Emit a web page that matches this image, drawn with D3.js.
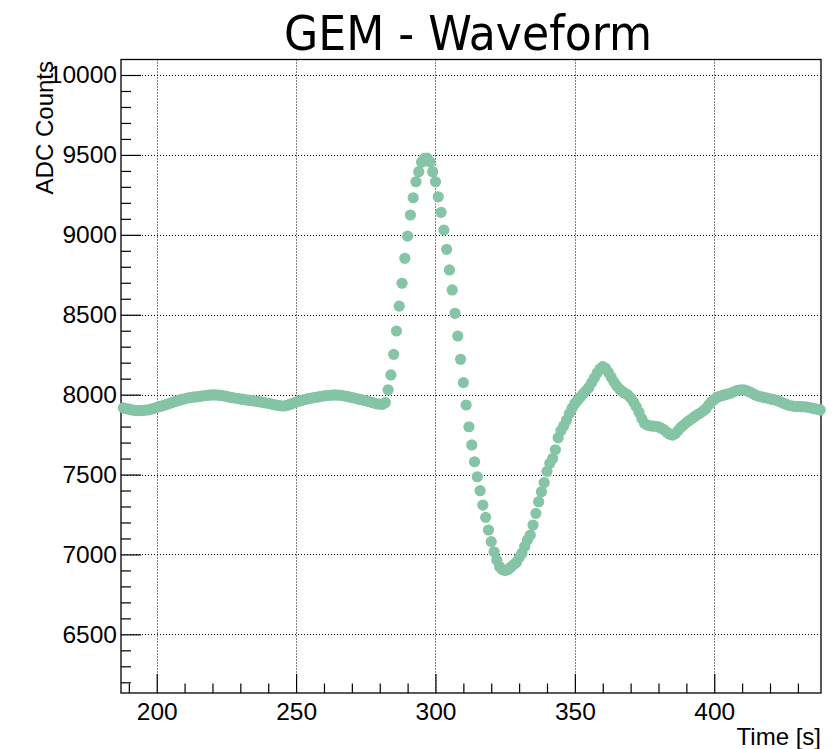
<!DOCTYPE html>
<html>
<head>
<meta charset="utf-8">
<script src="https://cdn.jsdelivr.net/npm/d3@7"></script>
<style>
  body { margin: 0; background: #fff; }
  text { font-family: "Liberation Sans", Arial, Helvetica, sans-serif; fill: #000; }
</style>
</head>
<body>
<div id="chart"></div>
<script>
// waveform samples (time in s, ADC counts)
var times = [
  188, 189, 190, 191, 192, 193, 194, 195, 196, 197,
  198, 199, 200, 201, 202, 203, 204, 205, 206, 207,
  208, 209, 210, 211, 212, 213, 214, 215, 216, 217,
  218, 219, 220, 221, 222, 223, 224, 225, 226, 227,
  228, 229, 230, 231, 232, 233, 234, 235, 236, 237,
  238, 239, 240, 241, 242, 243, 244, 245, 246, 247,
  248, 249, 250, 251, 252, 253, 254, 255, 256, 257,
  258, 259, 260, 261, 262, 263, 264, 265, 266, 267,
  268, 269, 270, 271, 272, 273, 274, 275, 276, 277,
  278, 279, 280, 281, 282, 283, 284, 285, 286, 287,
  288, 289, 290, 291, 292, 293, 294, 295, 296, 297,
  298, 299, 300, 301, 302, 303, 304, 305, 306, 307,
  308, 309, 310, 311, 312, 313, 314, 315, 316, 317,
  318, 319, 320, 321, 322, 323, 324, 325, 326, 327,
  328, 329, 330, 331, 332, 333, 334, 335, 336, 337,
  338, 339, 340, 341, 342, 343, 344, 345, 346, 347,
  348, 349, 350, 351, 352, 353, 354, 355, 356, 357,
  358, 359, 360, 361, 362, 363, 364, 365, 366, 367,
  368, 369, 370, 371, 372, 373, 374, 375, 376, 377,
  378, 379, 380, 381, 382, 383, 384, 385, 386, 387,
  388, 389, 390, 391, 392, 393, 394, 395, 396, 397,
  398, 399, 400, 401, 402, 403, 404, 405, 406, 407,
  408, 409, 410, 411, 412, 413, 414, 415, 416, 417,
  418, 419, 420, 421, 422, 423, 424, 425, 426, 427,
  428, 429, 430, 431, 432, 433, 434, 435, 436, 437,
  438
];
var adcCounts = [
  7917, 7913, 7909, 7905, 7902, 7900, 7900, 7901, 7903, 7905,
  7909, 7914, 7920, 7925, 7930, 7935, 7941, 7947, 7953, 7959,
  7965, 7970, 7974, 7978, 7981, 7984, 7986, 7988, 7991, 7993,
  7995, 7997, 7998, 7998, 7997, 7995, 7992, 7989, 7985, 7982,
  7979, 7976, 7973, 7970, 7967, 7965, 7963, 7960, 7958, 7955,
  7952, 7949, 7946, 7942, 7938, 7934, 7931, 7929, 7930, 7934,
  7940, 7947, 7953, 7959, 7964, 7969, 7973, 7977, 7980, 7983,
  7986, 7989, 7992, 7994, 7996, 7997, 7998, 7997, 7996, 7993,
  7990, 7986, 7982, 7978, 7974, 7970, 7966, 7962, 7957, 7952,
  7947, 7943, 7940, 7939, 7950, 8030, 8123, 8252, 8398, 8554,
  8697, 8853, 8992, 9124, 9232, 9332, 9395, 9454, 9478, 9480,
  9457, 9395, 9332, 9238, 9141, 9030, 8909, 8780, 8655, 8509,
  8367, 8221, 8075, 7935, 7799, 7685, 7580, 7486, 7399, 7309,
  7232, 7153, 7080, 7017, 6965, 6923, 6905, 6900, 6905, 6920,
  6935, 6950, 6980, 7007, 7050, 7090, 7121, 7184, 7257, 7330,
  7392, 7450, 7520, 7570, 7600, 7655, 7730, 7775, 7805, 7840,
  7880, 7915, 7945, 7965, 7985, 8005, 8025, 8045, 8075, 8105,
  8135, 8160, 8175, 8165, 8140, 8110, 8080, 8055, 8035, 8020,
  8008, 7998, 7980, 7955, 7925, 7890, 7850, 7820, 7810, 7805,
  7803, 7802, 7798, 7790, 7780, 7765, 7752, 7747, 7755, 7775,
  7795, 7810, 7825, 7838, 7850, 7863, 7875, 7885, 7898, 7912,
  7935, 7955, 7970, 7983, 7990, 7995, 8000, 8005, 8010, 8018,
  8025, 8029, 8030, 8028, 8022, 8015, 8005, 7996, 7990, 7986,
  7982, 7978, 7974, 7970, 7966, 7960, 7953, 7945, 7938, 7932,
  7929, 7927, 7926, 7925, 7924, 7923, 7920, 7916, 7912, 7908,
  7904
];

var xMajor = [200, 250, 300, 350, 400];
var xMinor = [190, 210, 220, 230, 240, 260, 270, 280, 290, 310, 320, 330, 340, 360, 370, 380, 390, 410, 420, 430];
var yMajor = [6500, 7000, 7500, 8000, 8500, 9000, 9500, 10000];
var yMinor = [6200, 6300, 6400, 6600, 6700, 6800, 6900, 7100, 7200, 7300, 7400, 7600, 7700, 7800, 7900,
              8100, 8200, 8300, 8400, 8600, 8700, 8800, 8900, 9100, 9200, 9300, 9400, 9600, 9700, 9800, 9900];

var w = 840, h = 749;
var frameL = 121, frameR = 821, frameT = 59.5, frameB = 693;

var svg = d3.select("#chart").append("svg")
  .attr("width", w)
  .attr("height", h);

var x = d3.scaleLinear().domain([187.19, 438.29]).range([frameL, frameR]);
var y = d3.scaleLinear().domain([6133, 10097]).range([frameB, frameT]);

// grid
var grid = svg.append("g")
  .attr("stroke", "#000")
  .attr("stroke-width", 1)
  .attr("stroke-dasharray", "1,2");
grid.selectAll(".gx").data(xMajor).enter().append("line")
  .attr("x1", d => Math.round(x(d)) + 0.5).attr("x2", d => Math.round(x(d)) + 0.5)
  .attr("y1", frameT).attr("y2", frameB);
grid.selectAll(".gy").data(yMajor).enter().append("line")
  .attr("y1", d => Math.round(y(d)) + 0.5).attr("y2", d => Math.round(y(d)) + 0.5)
  .attr("x1", frameL).attr("x2", frameR);

// axes (ticks inside the frame)
function styleAxis(g) {
  g.select(".domain").remove();
  g.selectAll(".tick line").attr("stroke", "#000").attr("stroke-width", 1.2);
  g.selectAll(".tick text").style("font-size", "24.5px")
    .style("font-family", '"Liberation Sans", Arial, sans-serif').attr("fill", "#000");
}

svg.append("g")
  .attr("transform", "translate(0," + frameB + ")")
  .call(d3.axisBottom(x).tickValues(xMinor).tickFormat("").tickSizeInner(-9.5).tickSizeOuter(0))
  .call(styleAxis);
svg.append("g")
  .attr("transform", "translate(0," + frameB + ")")
  .call(d3.axisBottom(x).tickValues(xMajor).tickFormat(d3.format("d")).tickSizeInner(-19).tickSizeOuter(0).tickPadding(10))
  .call(styleAxis);

svg.append("g")
  .attr("transform", "translate(" + frameL + ",0)")
  .call(d3.axisLeft(y).tickValues(yMinor).tickFormat("").tickSizeInner(-10).tickSizeOuter(0))
  .call(styleAxis);
svg.append("g")
  .attr("transform", "translate(" + frameL + ",0)")
  .call(d3.axisLeft(y).tickValues(yMajor).tickFormat(d3.format("d")).tickSizeInner(-20).tickSizeOuter(0).tickPadding(4))
  .call(styleAxis);

// frame
svg.append("rect")
  .attr("x", frameL).attr("y", frameT)
  .attr("width", frameR - frameL).attr("height", frameB - frameT)
  .attr("fill", "none")
  .attr("stroke", "#000")
  .attr("stroke-width", 1.3);

// markers
svg.append("g").selectAll("circle")
  .data(adcCounts)
  .enter()
  .append("circle")
  .attr("cx", (d, i) => x(times[i]))
  .attr("cy", d => y(d))
  .attr("r", 5.6)
  .attr("fill", "#85c4a5");

// titles
svg.append("text")
  .attr("x", 468).attr("y", 50)
  .attr("text-anchor", "middle")
  .attr("textLength", 368)
  .attr("lengthAdjust", "spacingAndGlyphs")
  .style("font-family", '"DejaVu Sans Condensed", "DejaVu Sans", sans-serif')
  .style("font-size", "48px")
  .text("GEM - Waveform");

svg.append("text")
  .attr("transform", "translate(53,61) rotate(-90)")
  .attr("text-anchor", "end")
  .style("font-size", "24px")
  .text("ADC Counts");

svg.append("text")
  .attr("x", 821).attr("y", 745)
  .attr("text-anchor", "end")
  .style("font-size", "24px")
  .text("Time [s]");
</script>
</body>
</html>
